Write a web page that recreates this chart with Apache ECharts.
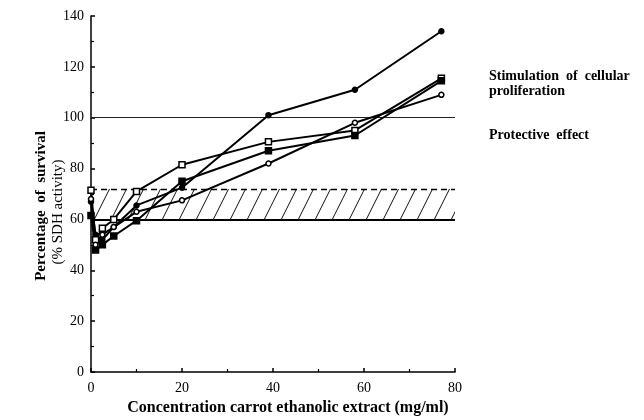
<!DOCTYPE html>
<html>
<head>
<meta charset="utf-8">
<script src="https://cdn.jsdelivr.net/npm/echarts@6/dist/echarts.min.js"></script>
<style>
  html, body { margin: 0; padding: 0; background: #fff; }
  #chart01 { width: 644px; height: 420px; }
</style>
</head>
<body>
<div id="chart01"></div>
<script>
// concentrations (mg/ml)
var conc = [0, 1, 2.5, 5, 10, 20, 39, 58, 77];
// % survival per series
var filledCircle = [67, 54, 52, 57, 65.5, 72.5, 101, 111, 134];
var openSquare   = [71.5, 52, 56.5, 60, 71, 81.5, 90.5, 95, 115.5];
var filledSquare = [61.5, 48, 50, 53.5, 59.5, 75, 87, 93, 114.5];
var openCircle   = [68, 50, 54, 57, 63, 67.5, 82, 98, 109];
// reference levels
var stimLevel = 100;
var protectLow = 60;
var protectHigh = 72;
var xTicks = [0, 20, 40, 60, 80];
var yTicks = [0, 20, 40, 60, 80, 100, 120, 140];

function pairs(ys) {
  return conc.map(function (x, i) { return [x, ys[i]]; });
}

// hatch pattern for the protective band
var hatch = document.createElement('canvas');
hatch.width = 17; hatch.height = 34;
var hc = hatch.getContext('2d');
hc.strokeStyle = '#111';
hc.lineWidth = 1;
[-17, 0, 17].forEach(function (o) {
  hc.beginPath();
  hc.moveTo(o, 34);
  hc.lineTo(o + 17, 0);
  hc.stroke();
});

var font = '"Liberation Serif", "Times New Roman", serif';

function mkSeries(name, ys, symbol, filled) {
  return {
    name: name,
    type: 'line',
    data: pairs(ys),
    symbol: symbol,
    symbolSize: symbol === 'rect' ? 6 : 5,
    showAllSymbol: true,
    lineStyle: { color: '#000', width: 2 },
    itemStyle: { color: filled ? '#000' : '#fff', borderColor: '#000', borderWidth: 1.5 },
    z: 5
  };
}

var myChart01 = echarts.init(document.getElementById('chart01'));
var option = {
  animation: false,
  backgroundColor: '#fff',
  grid: { left: 91, right: 189, top: 16, bottom: 48 },
  xAxis: {
    type: 'value',
    min: 0, max: 80, interval: 20,
    axisLine: { lineStyle: { color: '#000', width: 1.5 } },
    axisTick: { inside: true, length: 4, lineStyle: { color: '#000', width: 1.5 } },
    minorTick: { show: true, splitNumber: 2, length: 3, lineStyle: { color: '#000', width: 1.2 } },
    splitLine: { show: false },
    axisLabel: {
      color: '#000', fontFamily: font, fontSize: 14, margin: 9,
      formatter: function (v) { return xTicks.indexOf(v) >= 0 ? v : ''; }
    }
  },
  yAxis: {
    type: 'value',
    min: 0, max: 140, interval: 20,
    axisLine: { lineStyle: { color: '#000', width: 1.5 } },
    axisTick: { inside: true, length: 4, lineStyle: { color: '#000', width: 1.5 } },
    minorTick: { show: true, splitNumber: 2, length: 3, lineStyle: { color: '#000', width: 1.2 } },
    splitLine: { show: false },
    axisLabel: {
      color: '#000', fontFamily: font, fontSize: 14, margin: 7,
      formatter: function (v) { return yTicks.indexOf(v) >= 0 ? v : ''; }
    }
  },
  graphic: [
    {
      type: 'text', x: 41, y: 206, rotation: Math.PI / 2,
      style: { text: 'Percentage  of  survival', font: 'bold 15px ' + font, fill: '#000', align: 'center', verticalAlign: 'middle' }
    },
    {
      type: 'text', x: 58, y: 212, rotation: Math.PI / 2,
      style: { text: '(% SDH activity)', font: '15px ' + font, fill: '#000', align: 'center', verticalAlign: 'middle' }
    },
    {
      type: 'text', x: 288, y: 408,
      style: { text: 'Concentration carrot ethanolic extract (mg/ml)', font: 'bold 16px ' + font, fill: '#000', align: 'center', verticalAlign: 'middle' }
    },
    {
      type: 'text', x: 489, y: 84,
      style: { text: 'Stimulation  of  cellular\nproliferation', font: 'bold 14px ' + font, lineHeight: 15, fill: '#000', align: 'left', verticalAlign: 'middle' }
    },
    {
      type: 'text', x: 489, y: 135,
      style: { text: 'Protective  effect', font: 'bold 14px ' + font, fill: '#000', align: 'left', verticalAlign: 'middle' }
    }
  ],
  series: [
    {
      name: 'levels',
      type: 'line',
      data: [],
      silent: true,
      z: 2,
      markArea: {
        silent: true,
        itemStyle: { color: { image: hatch, repeat: 'repeat' } },
        data: [[{ xAxis: 0, yAxis: protectLow }, { xAxis: 80, yAxis: protectHigh }]]
      },
      markLine: {
        silent: true,
        symbol: 'none',
        label: { show: false },
        data: [
          { yAxis: stimLevel, lineStyle: { color: '#222', width: 1.2, type: 'solid' } },
          { yAxis: protectLow, lineStyle: { color: '#000', width: 2, type: 'solid' } },
          { yAxis: protectHigh, lineStyle: { color: '#000', width: 1.3, type: [6, 4] } }
        ]
      }
    },
    mkSeries('filled circle', filledCircle, 'circle', true),
    mkSeries('open square', openSquare, 'rect', false),
    mkSeries('filled square', filledSquare, 'rect', true),
    mkSeries('open circle', openCircle, 'circle', false)
  ]
};
myChart01.setOption(option);
</script>
</body>
</html>
